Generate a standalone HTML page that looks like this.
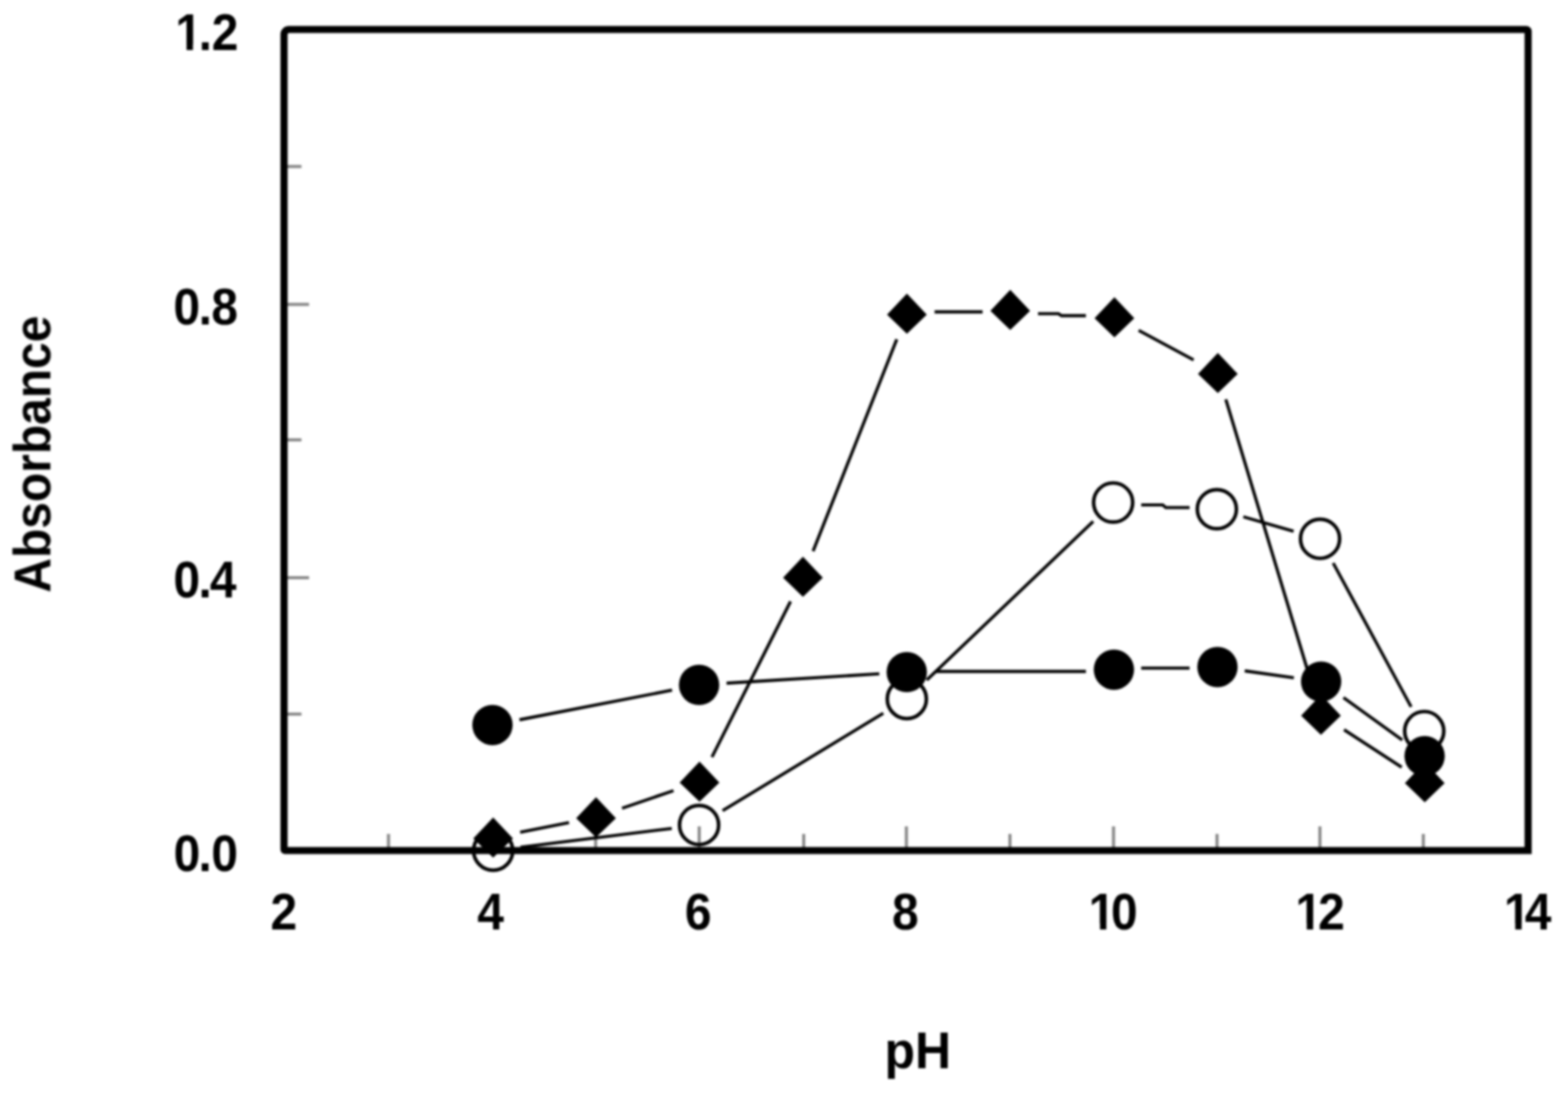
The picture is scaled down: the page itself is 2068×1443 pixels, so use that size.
<!DOCTYPE html>
<html lang="en"><head><meta charset="utf-8"><title>Absorbance vs pH</title>
<style>
html,body{margin:0;padding:0;background:#fff;}
body{width:2068px;height:1443px;}
svg{display:block;}
text{font-family:"Liberation Sans",sans-serif;font-weight:bold;font-size:68px;fill:#000;}
</style></head><body>
<svg width="2068" height="1443" viewBox="0 0 2068 1443">
<defs><clipPath id="c1"><path clip-rule="evenodd" d="M228.56 -70H360.41V25H228.56ZM249.85 -7.54H264.58V4H249.85ZM273.61 -7.54H285.99V4H273.61Z"/></clipPath><clipPath id="c2"><path clip-rule="evenodd" d="M1523.94 -70H1635.44V25H1523.94ZM1545.22 -7.54H1559.96V4H1545.22ZM1568.99 -7.54H1581.36V4H1568.99Z"/></clipPath><clipPath id="c3"><path clip-rule="evenodd" d="M1817.16 -70H1929.34V25H1817.16ZM1838.45 -7.54H1853.19V4H1838.45ZM1862.22 -7.54H1871.65V4H1862.22Z"/></clipPath><clipPath id="c4"><path clip-rule="evenodd" d="M2112.86 -70H2222.48V25H2112.86ZM2134.15 -7.54H2148.88V4H2134.15ZM2157.91 -7.54H2170.29V4H2157.91Z"/></clipPath><filter id="soft" x="0" y="0" width="2068" height="1443" filterUnits="userSpaceOnUse"><feGaussianBlur stdDeviation="1.5"/></filter></defs>
<rect width="2068" height="1443" fill="#fff"/>
<g filter="url(#soft)">
<g stroke="#000" stroke-opacity="0.48" stroke-width="4" fill="none">
<line x1="374.6" y1="219.6" x2="397.6" y2="219.6"/>
<line x1="374.6" y1="401.4" x2="407.6" y2="401.4"/>
<line x1="374.6" y1="580.2" x2="397.6" y2="580.2"/>
<line x1="374.6" y1="761.9" x2="407.6" y2="761.9"/>
<line x1="374.6" y1="941.9" x2="397.6" y2="941.9"/>
<line x1="512.4" y1="1121.9" x2="512.4" y2="1100"/>
<line x1="649" y1="1121.9" x2="649" y2="1090"/>
<line x1="785.6" y1="1121.9" x2="785.6" y2="1100"/>
<line x1="922.2" y1="1121.9" x2="922.2" y2="1090"/>
<line x1="1060" y1="1121.9" x2="1060" y2="1100"/>
<line x1="1195.4" y1="1121.9" x2="1195.4" y2="1090"/>
<line x1="1332" y1="1121.9" x2="1332" y2="1100"/>
<line x1="1468.6" y1="1121.9" x2="1468.6" y2="1090"/>
<line x1="1605.1" y1="1121.9" x2="1605.1" y2="1100"/>
<line x1="1740.8" y1="1121.9" x2="1740.8" y2="1090"/>
<line x1="1877.2" y1="1121.9" x2="1877.2" y2="1100"/>
</g>
<g fill="none" stroke="#000" stroke-width="4.7">
<circle cx="650.4" cy="1122" r="25.8"/>
<circle cx="922" cy="1088.2" r="25.8"/>
<circle cx="1196" cy="922" r="25.8"/>
<circle cx="1468.1" cy="662.8" r="25.8"/>
<circle cx="1604.9" cy="671.6" r="25.8"/>
<circle cx="1741" cy="710.7" r="25.8"/>
<circle cx="1878.4" cy="964.3" r="25.8"/>
</g>
<path d="M2015.4 1121.9H375.9A1.3 1.3 0 0 1 374.6 1120.6V45.4A6.5 6.5 0 0 1 381.1 38.9H2012.9A2.5 2.5 0 0 1 2015.4 41.4V1121.9Z" fill="none" stroke="#000" stroke-width="9.4" stroke-linejoin="miter"/>
<g stroke="#000" stroke-width="4.1" fill="none">
<line x1="686.42" y1="1117.52" x2="885.98" y2="1092.68"/>
<line x1="953.04" y1="1069.37" x2="1164.96" y2="940.83"/>
<line x1="1222.28" y1="896.96" x2="1441.82" y2="687.84"/>
<polyline points="1505.1,666 1533.5,666 1537.5,669.5 1568.9,669.5"/>
<line x1="1639.79" y1="681.62" x2="1706.11" y2="700.68"/>
<line x1="1758.29" y1="742.62" x2="1861.11" y2="932.38"/>
<line x1="685.13" y1="949.38" x2="886.37" y2="910.32"/>
<line x1="958.23" y1="901.16" x2="1159.67" y2="888.74"/>
<polyline points="1233.8,885.6 1432.2,885.6"/>
<polyline points="1505.1,881.3 1568.9,881.3"/>
<line x1="1641.65" y1="884.85" x2="1706.45" y2="893.95"/>
<line x1="1771.86" y1="920.21" x2="1849.44" y2="976.09"/>
<line x1="686.02" y1="1097.69" x2="750.48" y2="1085.01"/>
<line x1="820.42" y1="1066.18" x2="888.28" y2="1042.82"/>
<line x1="938.96" y1="998.59" x2="1042.64" y2="793.21"/>
<line x1="1072.34" y1="727.04" x2="1182.76" y2="447.56"/>
<polyline points="1232.6,411.4 1295.9,411.4"/>
<polyline points="1369,413.75 1396,413.75 1400,416.4 1432.2,416.4"/>
<line x1="1501.76" y1="435.72" x2="1574.24" y2="474.78"/>
<line x1="1616.69" y1="526.75" x2="1731.71" y2="907.95"/>
<line x1="1772.63" y1="962.49" x2="1848.67" y2="1011.91"/>
</g>
<g fill="#000">
<circle cx="649.5" cy="956.3" r="26.6"/>
<circle cx="922" cy="903.4" r="26.6"/>
<circle cx="1195.9" cy="886.5" r="26.6"/>
<circle cx="1469.1" cy="883.3" r="26.6"/>
<circle cx="1605.7" cy="879.8" r="26.6"/>
<circle cx="1742.4" cy="899" r="26.6"/>
<circle cx="1878.9" cy="997.3" r="26.6"/>
<path d="M650.4 1078.2L676.6 1105.9L650.4 1131.2L624.2 1105.9Z"/>
<path d="M786.1 1051.5L812.3 1079.2L786.1 1104.5L759.9 1079.2Z"/>
<path d="M922.6 1004.5L948.8 1032.2L922.6 1057.5L896.4 1032.2Z"/>
<path d="M1059 734.3L1085.2 762L1059 787.3L1032.8 762Z"/>
<path d="M1196.1 387.3L1222.3 415L1196.1 440.3L1169.9 415Z"/>
<path d="M1332.4 382.2L1358.6 409.9L1332.4 435.2L1306.2 409.9Z"/>
<path d="M1469.8 392L1496 419.7L1469.8 445L1443.6 419.7Z"/>
<path d="M1606.2 465.5L1632.4 493.2L1606.2 518.5L1580 493.2Z"/>
<path d="M1742.2 916.2L1768.4 943.9L1742.2 969.2L1716 943.9Z"/>
<path d="M1879.1 1005.2L1905.3 1032.9L1879.1 1058.2L1852.9 1032.9Z"/>
</g>
<text transform="translate(0 66.4) scale(0.93 1)" x="248.56 281.82 300.41" y="0" clip-path="url(#c1)">1.2</text>
<text transform="translate(0 427.9) scale(0.93 1)" x="246.03 281.82 299.66" y="0">0.8</text>
<text transform="translate(0 788.1) scale(0.93 1)" x="246.03 281.55 297.53" y="0">0.4</text>
<text transform="translate(0 1149.3) scale(0.93 1)" x="246.3 281.55 299.74" y="0">0.0</text>
<text transform="translate(0 1225.7) scale(0.93 1)" x="383.64" y="0">2</text>
<text transform="translate(0 1225.7) scale(0.93 1)" x="676.94" y="0">4</text>
<text transform="translate(0 1225.7) scale(0.93 1)" x="971.29" y="0">6</text>
<text transform="translate(0 1225.7) scale(0.93 1)" x="1265.04" y="0">8</text>
<text transform="translate(0 1225.7) scale(0.93 1)" x="1543.94 1575.44" y="0" clip-path="url(#c2)">10</text>
<text transform="translate(0 1225.7) scale(0.93 1)" x="1837.16 1869.34" y="0" clip-path="url(#c3)">12</text>
<text transform="translate(0 1225.7) scale(0.93 1)" x="2132.86 2162.48" y="0" clip-path="url(#c4)">14</text>
<text transform="translate(1210.5 1409.2) scale(0.97 1)" text-anchor="middle">pH</text>
<text transform="translate(66.4 599) rotate(-90) scale(0.93 1)" text-anchor="middle">Absorbance</text>
</g>
</svg>
</body></html>
